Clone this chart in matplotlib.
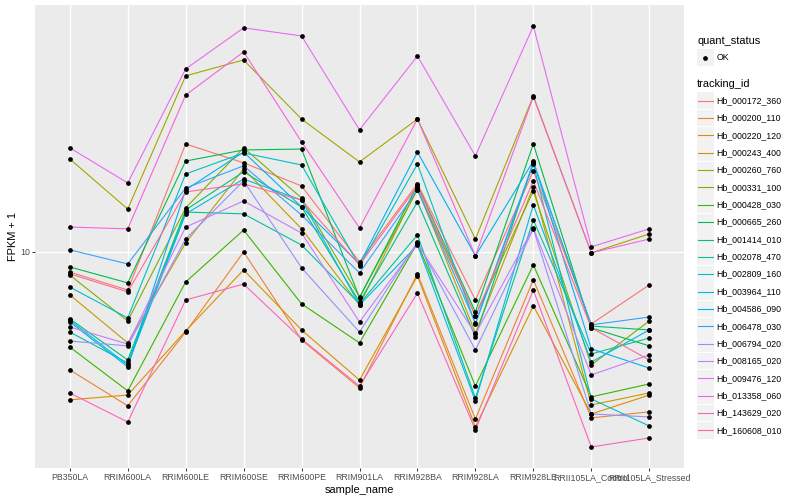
import matplotlib.pyplot as plt
import numpy as np
from matplotlib.lines import Line2D
from matplotlib.patches import Rectangle
from matplotlib.ticker import NullLocator

plt.rcParams['font.family'] = ['Liberation Sans', 'DejaVu Sans']

samples = ['PB350LA', 'RRIM600LA', 'RRIM600LE', 'RRIM600SE', 'RRIM600PE',
           'RRIM901LA', 'RRIM928BA', 'RRIM928LA', 'RRIM928LE',
           'RRII105LA_Control', 'RRII105LA_Stressed']

tracking_ids = ['Hb_000172_360', 'Hb_000200_110', 'Hb_000220_120', 'Hb_000243_400',
                'Hb_000260_760', 'Hb_000331_100', 'Hb_000428_030', 'Hb_000665_260',
                'Hb_001414_010', 'Hb_002078_470', 'Hb_002809_160', 'Hb_003964_110',
                'Hb_004586_090', 'Hb_006478_030', 'Hb_006794_020', 'Hb_008165_020',
                'Hb_009476_120', 'Hb_013358_060', 'Hb_143629_020', 'Hb_160608_010']

# log10(FPKM + 1) per gene, one value per sample (estimated from the plot)
hb_000172_360 = [0.933, 0.873, 1.360, 1.297, 1.220, 0.967, 1.227, 0.840, 1.270, 0.760, 0.890]
hb_000200_110 = [0.607, 0.487, 0.733, 1.000, 0.707, 0.547, 0.927, 0.443, 0.907, 0.447, 0.467]
hb_000220_120 = [0.507, 0.523, 0.737, 0.940, 0.740, 0.573, 0.920, 0.417, 0.820, 0.460, 0.523]
hb_000243_400 = [0.857, 0.697, 1.030, 1.277, 1.077, 0.823, 1.213, 0.730, 1.217, 0.490, 0.530]
hb_000260_760 = [1.310, 1.143, 1.587, 1.640, 1.443, 1.300, 1.443, 1.043, 1.520, 0.997, 1.060]
hb_000331_100 = [0.923, 0.770, 1.147, 1.347, 1.180, 0.850, 1.207, 0.787, 1.203, 0.623, 0.770]
hb_000428_030 = [0.683, 0.537, 0.900, 1.073, 0.827, 0.697, 1.030, 0.553, 0.957, 0.517, 0.560]
hb_000665_260 = [0.950, 0.897, 1.303, 1.340, 1.343, 0.847, 1.223, 0.800, 1.360, 0.747, 0.687]
hb_001414_010 = [0.777, 0.640, 1.140, 1.267, 1.150, 0.833, 1.167, 0.717, 1.300, 0.753, 0.740]
hb_002078_470 = [0.733, 0.630, 1.133, 1.127, 1.023, 0.827, 1.057, 0.513, 1.107, 0.660, 0.713]
hb_002809_160 = [0.883, 0.780, 1.260, 1.330, 1.290, 0.953, 1.293, 0.760, 1.293, 0.510, 0.420]
hb_003964_110 = [0.773, 0.623, 1.127, 1.243, 1.173, 0.823, 1.023, 0.503, 1.157, 0.633, 0.740]
hb_004586_090 = [0.767, 0.617, 1.207, 1.333, 1.150, 0.960, 1.333, 0.987, 1.303, 0.677, 0.613]
hb_006478_030 = [1.007, 0.960, 1.213, 1.287, 1.123, 0.930, 1.207, 0.763, 1.297, 0.757, 0.783]
hb_006794_020 = [0.703, 0.687, 1.043, 1.237, 0.947, 0.733, 1.033, 0.673, 1.077, 0.460, 0.450]
hb_008165_020 = [0.750, 0.693, 1.083, 1.170, 1.063, 0.767, 1.027, 0.727, 1.080, 0.590, 0.657]
hb_009476_120 = [1.347, 1.230, 1.610, 1.747, 1.720, 1.407, 1.653, 1.320, 1.753, 1.017, 1.077]
hb_013358_060 = [1.083, 1.077, 1.523, 1.667, 1.367, 1.080, 1.443, 0.987, 1.517, 0.997, 1.043]
hb_143629_020 = [0.530, 0.433, 0.840, 0.893, 0.710, 0.553, 0.863, 0.407, 0.873, 0.350, 0.380]
hb_160608_010 = [0.927, 0.867, 1.200, 1.227, 1.173, 0.957, 1.220, 0.787, 1.237, 0.747, 0.640]

log_fpkm = [hb_000172_360, hb_000200_110, hb_000220_120, hb_000243_400, hb_000260_760,
            hb_000331_100, hb_000428_030, hb_000665_260, hb_001414_010, hb_002078_470,
            hb_002809_160, hb_003964_110, hb_004586_090, hb_006478_030, hb_006794_020,
            hb_008165_020, hb_009476_120, hb_013358_060, hb_143629_020, hb_160608_010]


def hue_pal(n, c=100.0, l=65.0):
    # ggplot2 default discrete palette (HCL -> sRGB)
    hues = np.linspace(15, 375, n + 1)[:-1]
    xn, yn, zn = 95.047, 100.0, 108.883
    un = 4 * xn / (xn + 15 * yn + 3 * zn)
    vn = 9 * yn / (xn + 15 * yn + 3 * zn)
    out = []
    for h in hues:
        u = c * np.cos(np.radians(h))
        v = c * np.sin(np.radians(h))
        Y = yn * ((l + 16) / 116) ** 3
        up = u / (13 * l) + un
        vp = v / (13 * l) + vn
        X = 9.0 * Y * up / (4 * vp)
        Z = -X / 3 - 5 * Y + 3 * Y / vp
        X, Y, Z = X / 100, Y / 100, Z / 100
        rgb = np.array([3.240479 * X - 1.537150 * Y - 0.498535 * Z,
                        -0.969256 * X + 1.875992 * Y + 0.041556 * Z,
                        0.055648 * X - 0.204043 * Y + 1.057311 * Z])
        rgb = np.where(rgb <= 0.0031308, 12.92 * rgb, 1.055 * np.abs(rgb) ** (1 / 2.4) - 0.055)
        out.append(tuple(np.clip(rgb, 0, 1)))
    return out


colors = hue_pal(len(tracking_ids))
W, H = 800, 500

fig = plt.figure(figsize=(8, 5), dpi=100)
ax = fig.add_axes([35 / W, 32 / H, 649 / W, 463 / H])
ax.set_facecolor('#EBEBEB')
for s in ax.spines.values():
    s.set_visible(False)

x = np.arange(1, len(samples) + 1)
for vals, col in zip(log_fpkm, colors):
    ax.plot(x, 10 ** np.array(vals), color=col, lw=0.8, zorder=2)
for vals in log_fpkm:
    ax.plot(x, 10 ** np.array(vals), ls='none', marker='o', ms=2.4, color='black', zorder=3)

all_vals = np.concatenate(log_fpkm)
lo, hi = all_vals.min(), all_vals.max()
pad = 0.05 * (hi - lo)
ax.set_yscale('log')
ax.set_ylim(10 ** (lo - pad), 10 ** (hi + pad))
ax.set_yticks([10])
ax.set_yticklabels(['10'])
ax.yaxis.set_minor_locator(NullLocator())
ax.set_xlim(0.4, len(samples) + 0.6)
ax.set_xticks(x)
ax.set_xticklabels(samples)
ax.grid(color='white', lw=1.0)
ax.set_axisbelow(True)
ax.tick_params(length=2.0, width=0.7, color='#333333', labelsize=6.3,
               labelcolor='#4D4D4D', pad=1.6)
ax.set_xlabel('sample_name', fontsize=7.9, labelpad=2)
ax.set_ylabel('FPKM + 1', fontsize=7.9, labelpad=1.5)


def fx(px):
    return px / W


def fy(py):
    return 1 - py / H


# legends
fig.text(fx(697), fy(40.5), 'quant_status', fontsize=7.9, va='center', ha='left')
fig.add_artist(Rectangle((fx(697), fy(66)), 17 / W, 17 / H, facecolor='#F2F2F2',
                         edgecolor='none', transform=fig.transFigure))
fig.add_artist(Line2D([fx(705)], [fy(57.5)], marker='o', ms=2.4, color='black',
                      transform=fig.transFigure))
fig.text(fx(716.7), fy(57.5), 'OK', fontsize=6.3, va='center', ha='left')

fig.text(fx(697), fy(84), 'tracking_id', fontsize=7.9, va='center', ha='left')
for i, (name, col) in enumerate(zip(tracking_ids, colors)):
    cy = 100.7 + i * 17.35
    fig.add_artist(Rectangle((fx(697), fy(cy + 8.4)), 17 / W, 16.8 / H, facecolor='#F2F2F2',
                             edgecolor='none', transform=fig.transFigure))
    fig.add_artist(Line2D([fx(698), fx(712.5)], [fy(cy), fy(cy)], color=col, lw=0.8,
                          transform=fig.transFigure))
    fig.text(fx(716.7), fy(cy), name, fontsize=6.3, va='center', ha='left')

fig.savefig('out.png', dpi=100)
